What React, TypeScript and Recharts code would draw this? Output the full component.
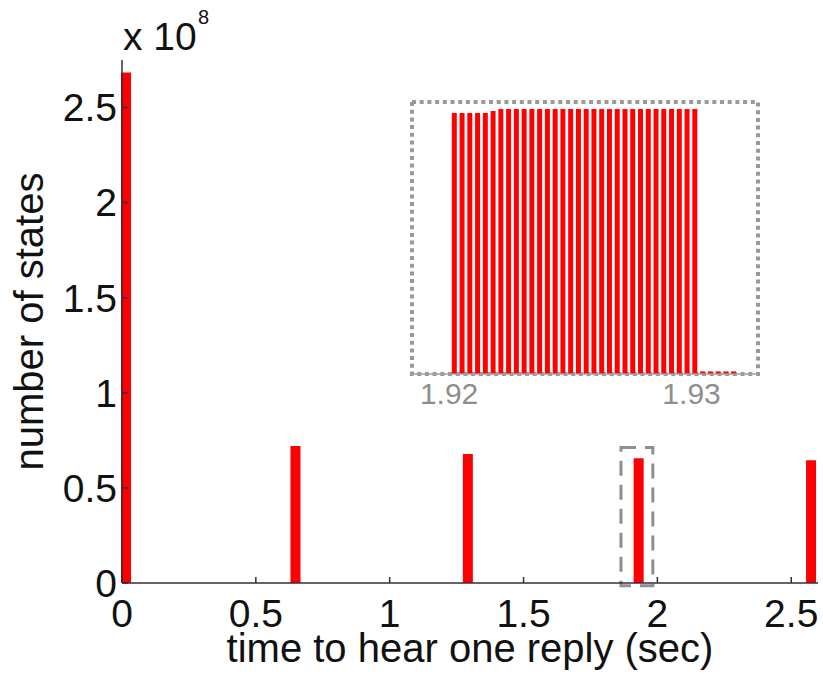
import React from 'react';
import { ComposedChart, Bar, XAxis, YAxis, ReferenceArea, Label } from 'recharts';

// main histogram (bar centres in sec, counts)
const mainTimes = [0.014, 0.647, 1.291, 1.929, 2.573];
const mainCounts = [2.684e8, 0.72e8, 0.678e8, 0.656e8, 0.646e8];
const xTicks = [0, 0.5, 1, 1.5, 2, 2.5];
const yTicks = [0, 0.5e8, 1e8, 1.5e8, 2e8, 2.5e8];

// zoomed-in bins around 1.93 s
const insetTimes = [
  1.92023, 1.92055, 1.92087, 1.92119, 1.92151, 1.92183, 1.92215, 1.92247,
  1.92279, 1.92311, 1.92343, 1.92375, 1.92407, 1.92439, 1.92471, 1.92503,
  1.92535, 1.92567, 1.92599, 1.92631, 1.92663, 1.92695, 1.92727, 1.92759,
  1.92791, 1.92823, 1.92855, 1.92887, 1.92919, 1.92951, 1.92983, 1.93015,
  1.93047, 1.93079, 1.93111, 1.93143, 1.93175,
];
const insetCounts = [
  2.04e6, 2.04e6, 2.04e6, 2.04e6, 2.04e6, 2.055e6, 2.07e6, 2.07e6,
  2.07e6, 2.07e6, 2.07e6, 2.07e6, 2.07e6, 2.07e6, 2.07e6, 2.07e6,
  2.07e6, 2.07e6, 2.07e6, 2.07e6, 2.07e6, 2.07e6, 2.07e6, 2.07e6,
  2.07e6, 2.07e6, 2.07e6, 2.07e6, 2.07e6, 2.07e6, 2.07e6, 2.07e6,
  0.02e6, 0.02e6, 0.02e6, 0.02e6, 0.02e6,
];
const insetTicks = [1.92, 1.93];

const mainData = mainTimes.map((t, i) => ({ t, n: mainCounts[i] }));
const insetData = insetTimes.map((t, i) => ({ t, n: insetCounts[i] }));

const font = '"Liberation Sans", Arial, Helvetica, sans-serif';
const axisColor = '#3a2a3a';
const grey = '#8e8e8e';

const YLabel = (props: any) => {
  const vb = props.viewBox;
  const cx = vb.x + 43;
  const cy = vb.y + vb.height / 2;
  return (
    <g fontFamily={font} fill="#111">
      <text x={cx} y={cy} transform={`rotate(-90 ${cx} ${cy})`} textAnchor="middle" fontSize={40}>
        number of states
      </text>
      <text x={vb.x + vb.width + 1} y={vb.y - 10} fontSize={39}>x 10</text>
      <text x={vb.x + vb.width + 76} y={vb.y - 36} fontSize={20}>8</text>
    </g>
  );
};

const XLabel = (props: any) => {
  const vb = props.viewBox;
  return (
    <text x={vb.x + vb.width / 2} y={vb.y + 79} textAnchor="middle" fontSize={40} fontFamily={font} fill="#111">
      time to hear one reply (sec)
    </text>
  );
};

const tickStyle = { fontSize: 39, fill: '#111', fontFamily: font };

export default function App() {
  return (
    <div style={{ position: 'absolute', left: 0, top: 0, width: 823, height: 675, background: '#fff' }}>
      <ComposedChart width={823} height={675} data={mainData} margin={{ top: 60, right: 5, bottom: 0, left: 0 }}>
        <XAxis
          dataKey="t"
          type="number"
          domain={[0, 2.6]}
          ticks={xTicks}
          height={92}
          tickSize={-6}
          tickMargin={22}
          tick={tickStyle}
          stroke={axisColor}
          strokeWidth={1.5}
          interval={0}
        >
          <Label content={XLabel} />
        </XAxis>
        <XAxis xAxisId="top" orientation="top" type="number" domain={[0, 2.6]} ticks={xTicks} height={0} tickSize={-6} tick={false} stroke={axisColor} strokeWidth={1.5} />
        <YAxis
          type="number"
          domain={[0, 2.75e8]}
          ticks={yTicks}
          width={122}
          tickSize={-6}
          tickMargin={11}
          tick={tickStyle}
          tickFormatter={(v: number) => String(v / 1e8)}
          stroke={axisColor}
          strokeWidth={1.5}
          interval={0}
        >
          <Label content={YLabel} />
        </YAxis>
        <YAxis yAxisId="right" orientation="right" type="number" domain={[0, 2.75e8]} ticks={yTicks} width={0} tickSize={-6} tick={false} stroke={axisColor} strokeWidth={1.5} />
        <Bar dataKey="n" fill="#ff0000" barSize={10} isAnimationActive={false} />
        <ReferenceArea
          x1={1.864}
          x2={1.983}
          y1={-0.014e8}
          y2={0.713e8}
          ifOverflow="visible"
          fill="none"
          stroke={grey}
          strokeWidth={3}
          strokeDasharray="15 9"
        />
      </ComposedChart>

      <div style={{ position: 'absolute', left: 408, top: 98 }}>
        <ComposedChart width={354} height={316} data={insetData} margin={{ top: 4, right: 4, bottom: 0, left: 4 }}>
          <XAxis
            dataKey="t"
            type="number"
            domain={[1.91847, 1.93274]}
            ticks={insetTicks}
            height={40}
            tickLine={false}
            tickSize={0}
            tickMargin={9}
            tick={{ fontSize: 30, fill: grey, fontFamily: font }}
            stroke="#a0a0a0"
            strokeWidth={1.5}
            allowDataOverflow
            interval={0}
          />
          <YAxis hide type="number" domain={[0, 2.125e6]} />
          <Bar dataKey="n" fill="#ff0000" barSize={5} isAnimationActive={false} />
          <ReferenceArea
            x1={1.91847}
            x2={1.93274}
            y1={0}
            y2={2.125e6}
            ifOverflow="visible"
            fill="none"
            stroke="#999"
            strokeWidth={4}
            strokeDasharray="4 3.7"
          />
        </ComposedChart>
      </div>
    </div>
  );
}
